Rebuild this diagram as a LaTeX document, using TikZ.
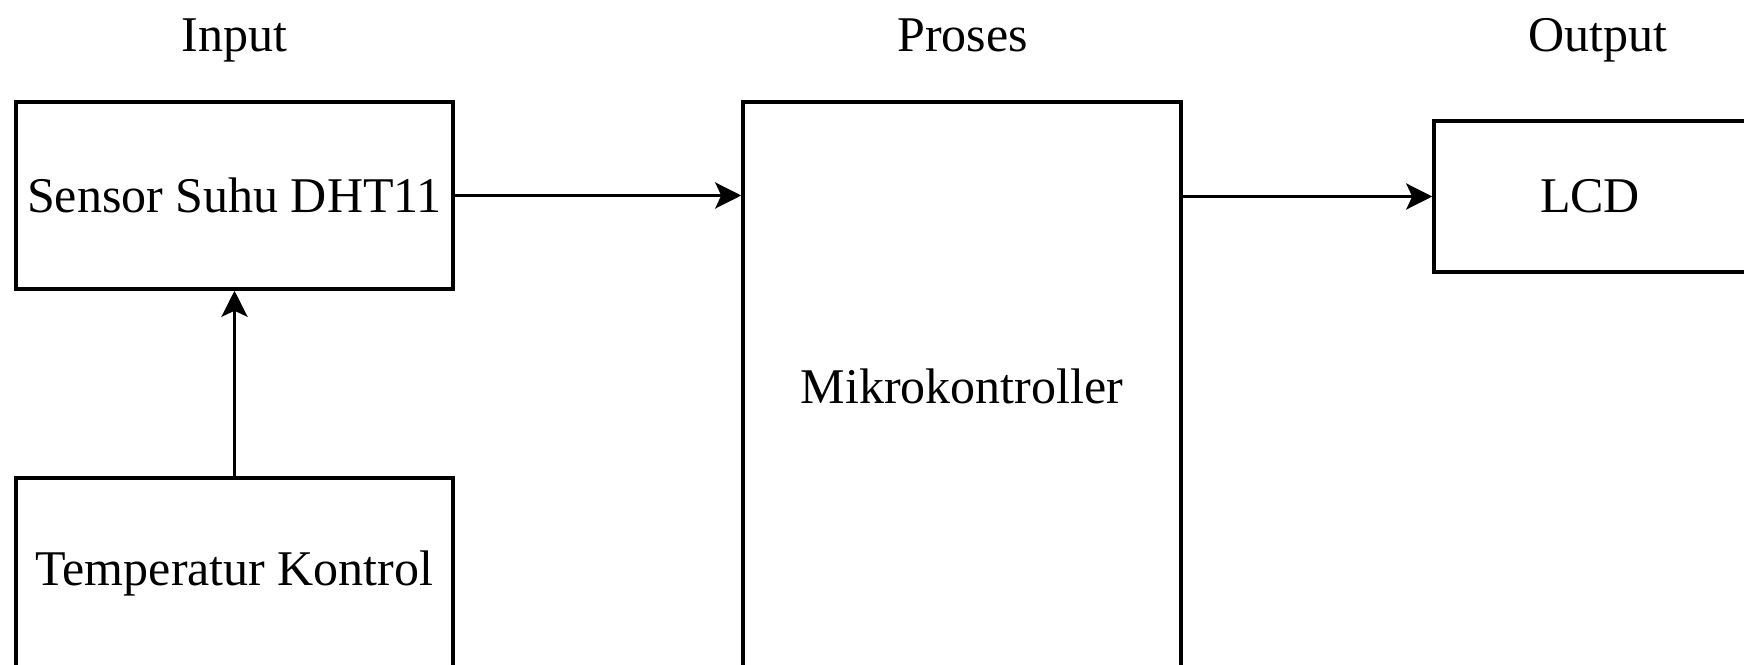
\documentclass[tikz,border=0pt]{standalone}
\usepackage{fontspec}
\setmainfont{Liberation Serif}
\usetikzlibrary{arrows.meta}
\begin{document}
\begin{tikzpicture}[x=0.02cm,y=-0.02cm,
  box/.style={draw=black,line width=2pt,rectangle,inner sep=0pt,align=center,font=\fontsize{28.45pt}{32pt}\selectfont},
  title/.style={inner sep=0pt,anchor=base,font=\fontsize{28.45pt}{32pt}\selectfont},
  conn/.style={draw=black,line width=2pt,-{Stealth[length=0.52cm,width=0.52cm,inset=0.12cm]}}]
\useasboundingbox (0,0) rectangle (1744,665);
\clip (0,0) rectangle (1744,665);
\node[box,minimum width=437*0.02cm,minimum height=187*0.02cm] (sensor) at (234.5,195.5) {Sensor Suhu DHT11};
\node[box,minimum width=437*0.02cm,minimum height=190*0.02cm] (temp) at (234.5,573) {Temperatur Kontrol};
\node[box,minimum width=438*0.02cm,minimum height=568*0.02cm] (mikro) at (962,386) {Mikrokontroller};
\node[box,minimum width=312*0.02cm,minimum height=151*0.02cm] (lcd) at (1590,196.5) {LCD};
\node[title] (tin) at (234.5,52) {Input};
\node[title] (tpr) at (962.5,52) {Proses};
\node[title] (tout) at (1597.5,52) {Output};
\draw[conn] (sensor.east) -- (sensor.east -| mikro.west);
\draw[conn] (mikro.east |- lcd.west) -- (lcd.west);
\draw[conn] (temp.north) -- (sensor.south);
\end{tikzpicture}
\end{document}
